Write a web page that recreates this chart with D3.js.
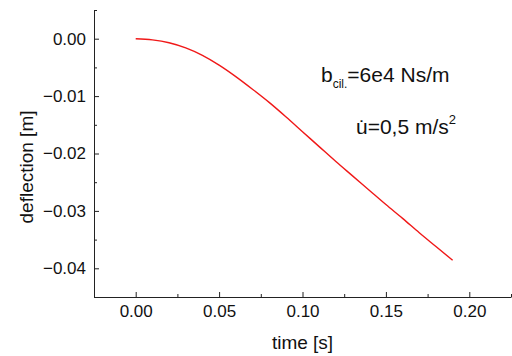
<!DOCTYPE html>
<html>
<head>
<meta charset="utf-8">
<script src="https://cdn.jsdelivr.net/npm/d3@7"></script>
<style>
  body { margin: 0; background: #fff; }
  svg { display: block; font-family: 'Liberation Sans', Arial, sans-serif; }
  .axis path, .axis line { stroke: #222; }
  .axis text { fill: #111; font-size: 17px; }
</style>
</head>
<body>
<svg id="chart" width="512" height="356"></svg>
<script>
// time [s] and deflection [m]
const times = [0, 0.01, 0.02, 0.03, 0.04, 0.05, 0.06, 0.07, 0.08, 0.09, 0.10,
  0.11, 0.12, 0.13, 0.14, 0.15, 0.16, 0.17, 0.18, 0.19]
const deflections = [0, -0.0002, -0.0007, -0.0016, -0.0029, -0.0046, -0.0066, -0.0088,
  -0.0111, -0.0136, -0.0162, -0.0188, -0.0214, -0.0239, -0.0264, -0.0289, -0.0313,
  -0.0338, -0.0362, -0.0386]

const xTicks = [0, 0.05, 0.10, 0.15, 0.20]
const xMinorTicks = [-0.025, 0.025, 0.075, 0.125, 0.175, 0.225]
const yTicks = [0, -0.01, -0.02, -0.03, -0.04]
const yMinorTicks = [0.005, -0.005, -0.015, -0.025, -0.035, -0.045]

const xLabel = 'time [s]'
const yLabel = 'deflection [m]'

const margins = { top: 10, left: 94 }
const width = 417
const height = 287

const svg = d3.select('#chart')
const g = svg.append('g')
  .attr('transform', `translate(${margins.left}, ${margins.top})`)

const x = d3.scaleLinear().domain([-0.025, 0.225]).range([0, width])
const y = d3.scaleLinear().domain([-0.045, 0.005]).range([height, 0])

// minor ticks first, then the major axes on top
g.append('g')
  .attr('class', 'axis')
  .attr('transform', `translate(0, ${height})`)
  .call(d3.axisBottom(x).tickValues(xMinorTicks).tickFormat('').tickSizeInner(-3).tickSizeOuter(0))
  .select('.domain').remove()
g.append('g')
  .attr('class', 'axis')
  .call(d3.axisLeft(y).tickValues(yMinorTicks).tickFormat('').tickSizeInner(-3).tickSizeOuter(0))
  .select('.domain').remove()

g.append('g')
  .attr('class', 'axis axis--x')
  .attr('transform', `translate(0, ${height})`)
  .call(d3.axisBottom(x).tickValues(xTicks).tickFormat(d3.format('.2f'))
    .tickSizeInner(-5).tickSizeOuter(0).tickPadding(8))

g.append('g')
  .attr('class', 'axis axis--y')
  .call(d3.axisLeft(y).tickValues(yTicks).tickFormat(d3.format('.2f'))
    .tickSizeInner(-5).tickSizeOuter(0).tickPadding(8))

const line = d3.line()
  .x((d, i) => x(times[i]))
  .y((d) => y(d))
  .curve(d3.curveMonotoneX)

g.append('path')
  .datum(deflections)
  .attr('fill', 'none')
  .attr('stroke', '#f01818')
  .attr('stroke-width', 1.4)
  .attr('d', line)

// axis titles
svg.append('text')
  .attr('x', margins.left + width / 2)
  .attr('y', 349)
  .attr('text-anchor', 'middle')
  .attr('font-size', 19)
  .attr('fill', '#111')
  .text(xLabel)

svg.append('text')
  .attr('transform', 'translate(33, 167) rotate(-90)')
  .attr('text-anchor', 'middle')
  .attr('font-size', 19)
  .attr('fill', '#111')
  .text(yLabel)

// annotations
const note1 = svg.append('text')
  .attr('x', 321)
  .attr('y', 82)
  .attr('font-size', 21)
  .attr('fill', '#111')
note1.append('tspan').text('b')
note1.append('tspan').attr('font-size', 12).attr('dy', 6).text('cil.')
note1.append('tspan').attr('dy', -6).text('=6e4 Ns/m')

// u with a dot above (time derivative), as a combining character
const note2 = svg.append('text')
  .attr('x', 356)
  .attr('y', 134)
  .attr('font-size', 21)
  .attr('fill', '#111')
note2.append('tspan').text('u\u0307=0,5 m/s')
note2.append('tspan').attr('font-size', 13).attr('dy', -10).text('2')
</script>
</body>
</html>
